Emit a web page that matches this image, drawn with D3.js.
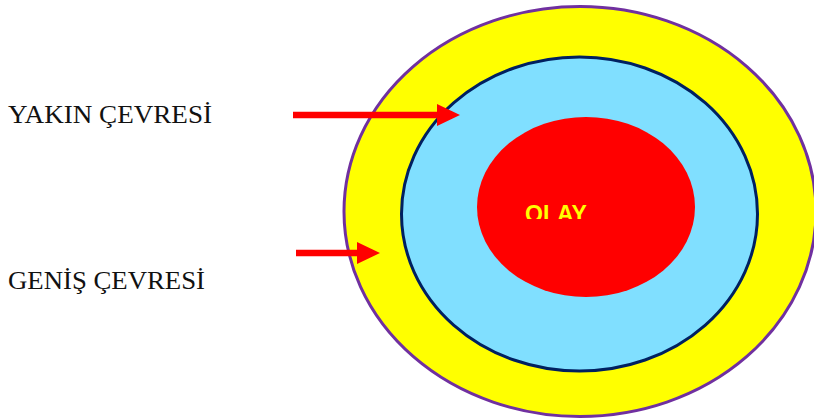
<!DOCTYPE html>
<html>
<head>
<meta charset="utf-8">
<script src="https://cdn.jsdelivr.net/npm/d3@7"></script>
<style>
  body { margin: 0; background: #fff; }
  svg { display: block; }
</style>
</head>
<body>
<div id="viz"></div>
<script>
// Ring names, from outside to inside
const rings = ["GENİŞ ÇEVRESİ", "YAKIN ÇEVRESİ", "OLAY"];
const ringFill = ["#ffff00", "#80dfff", "#ff0000"];
const ringStroke = ["#7030a0", "#002060", "none"];

// Labels on the left, each with an arrow pointing to its ring
const labels = ["YAKIN ÇEVRESİ", "GENİŞ ÇEVRESİ"];
const centerText = "OLAY";

const width = 814;
const height = 419;

const svg = d3.select("#viz")
  .append("svg")
  .attr("width", width)
  .attr("height", height);

// Ring geometry in pixels (center x, center y, radius x, radius y)
const geom = [
  { cx: 580, cy: 211.5, rx: 236, ry: 205 },
  { cx: 579.5, cy: 214, rx: 178, ry: 157 },
  { cx: 586, cy: 207, rx: 109, ry: 90 }
];

svg.selectAll("ellipse.ring")
  .data(rings)
  .join("ellipse")
  .attr("class", "ring")
  .attr("cx", (d, i) => geom[i].cx)
  .attr("cy", (d, i) => geom[i].cy)
  .attr("rx", (d, i) => geom[i].rx)
  .attr("ry", (d, i) => geom[i].ry)
  .attr("fill", (d, i) => ringFill[i])
  .attr("stroke", (d, i) => ringStroke[i])
  .attr("stroke-width", 3);

// Center text, cut off at the bottom like the original
svg.append("clipPath")
  .attr("id", "olayClip")
  .append("rect")
  .attr("x", 480).attr("y", 150)
  .attr("width", 200).attr("height", 69);

svg.append("text")
  .attr("clip-path", "url(#olayClip)")
  .attr("x", 525)
  .attr("y", 221.5)
  .attr("fill", "#ffff00")
  .attr("font-family", "Liberation Sans, Arial, sans-serif")
  .attr("font-weight", "bold")
  .attr("font-size", 23)
  .text(centerText);

// Left labels
const labelY = [123, 289];
svg.selectAll("text.label")
  .data(labels)
  .join("text")
  .attr("class", "label")
  .attr("x", 8)
  .attr("y", (d, i) => labelY[i])
  .attr("fill", "#111")
  .attr("font-family", "Liberation Serif, Times New Roman, serif")
  .attr("font-size", 26)
  .attr("textLength", (d, i) => i === 0 ? 204 : 197)
  .attr("lengthAdjust", "spacingAndGlyphs")
  .text(d => d);

// Arrows: start x, tip x, y
const arrows = [
  { x0: 293, x1: 460, y: 115 },
  { x0: 296, x1: 380, y: 253 }
];
const headLen = 23, headHalf = 11, shaftHalf = 3.3;

svg.selectAll("path.arrow")
  .data(arrows)
  .join("path")
  .attr("class", "arrow")
  .attr("fill", "#ff0000")
  .attr("d", a => {
    const p = d3.path();
    p.moveTo(a.x0, a.y - shaftHalf);
    p.lineTo(a.x1 - headLen, a.y - shaftHalf);
    p.lineTo(a.x1 - headLen, a.y - headHalf);
    p.lineTo(a.x1, a.y);
    p.lineTo(a.x1 - headLen, a.y + headHalf);
    p.lineTo(a.x1 - headLen, a.y + shaftHalf);
    p.lineTo(a.x0, a.y + shaftHalf);
    p.closePath();
    return p.toString();
  });
</script>
</body>
</html>
